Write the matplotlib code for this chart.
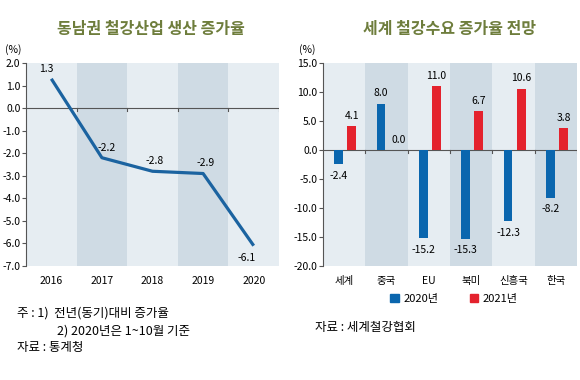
import matplotlib
matplotlib.use('Agg')
import matplotlib.pyplot as plt
import matplotlib.patches as mpatches
import numpy as np

plt.rcParams['font.family'] = ['Noto Sans CJK KR', 'DejaVu Sans']

# data
years = ['2016', '2017', '2018', '2019', '2020']
growth = [1.3, -2.2, -2.8, -2.9, -6.1]

regions = ['세계', '중국', 'EU', '북미', '신흥국', '한국']
demand_2020 = [-2.4, 8.0, -15.2, -15.3, -12.3, -8.2]
demand_2021 = [4.1, 0.0, 11.0, 6.7, 10.6, 3.8]

band_light = '#e6edf2'
band_dark = '#cfdbe4'
title_col = '#6e7d3c'
blue = '#0a66ae'
red = '#e4222d'
axis_col = '#555555'

fig = plt.figure(figsize=(5.8, 3.8), dpi=100)


def style_axes(ax, n, ymin, ymax, step, tick_h):
    ax.set_xlim(-0.5, n - 0.5)
    ax.set_ylim(ymin, ymax)
    for i in range(n):
        ax.axvspan(i - 0.5, i + 0.5, color=band_dark if i % 2 else band_light, lw=0, zorder=0)
    for s in ['top', 'right', 'bottom']:
        ax.spines[s].set_visible(False)
    ax.spines['left'].set_color(axis_col)
    ax.spines['left'].set_linewidth(0.8)
    ax.axhline(0, color=axis_col, lw=0.8, zorder=1)
    for i in range(n):
        ax.plot([i + 0.5, i + 0.5], [0, -tick_h], color=axis_col, lw=0.8, zorder=1)
    ticks = np.arange(ymin, ymax + step / 2, step)
    ax.set_yticks(ticks)
    ax.set_yticklabels(['%.1f' % v for v in ticks], fontsize=7.5)
    ax.tick_params(axis='y', length=3, width=0.8, color=axis_col, pad=1)
    ax.tick_params(axis='x', length=0, pad=7, labelsize=7.5)
    ax.set_xticks(range(n))


# === left: line chart ===
ax1 = fig.add_axes([26 / 580, 1 - 266 / 380, 253 / 580, 203 / 380])
style_axes(ax1, len(years), -7, 2, 1, 0.15)
ax1.set_xticklabels(years)
x1 = np.arange(len(years))
ax1.plot(x1, growth, color='#1b63a0', lw=2.3, zorder=3, solid_capstyle='butt')
offsets = [(-0.1, 0.45), (0.1, 0.45), (0.05, 0.45), (0.05, 0.45), (-0.15, -0.55)]
for xi, v, (dx, dy) in zip(x1, growth, offsets):
    ax1.text(xi + dx, v + dy, '%.1f' % v, ha='center', va='center', fontsize=7.5)
fig.text(5 / 580, 1 - 50 / 380, '(%)', fontsize=7.5, va='center')
fig.text(151 / 580, 1 - 29 / 380, '동남권 철강산업 생산 증가율', fontsize=11.5,
         color=title_col, ha='center', va='center', fontweight='bold')

fig.text(17 / 580, 1 - 313 / 380, '주 : 1)  전년(동기)대비 증가율', fontsize=9, va='center')
fig.text(57 / 580, 1 - 331 / 380, '2) 2020년은 1~10월 기준', fontsize=9, va='center')
fig.text(17 / 580, 1 - 348 / 380, '자료 : 통계청', fontsize=9, va='center')

# === right: bar chart ===
ax2 = fig.add_axes([323 / 580, 1 - 266 / 380, 254 / 580, 203 / 380])
style_axes(ax2, len(regions), -20, 15, 5, 0.5)
ax2.set_xticklabels(regions)
x2 = np.arange(len(regions))
w = 0.21
ax2.bar(x2 - 0.13, demand_2020, w, color=blue, zorder=2)
ax2.bar(x2 + 0.18, demand_2021, w, color=red, zorder=2)
for xi, v in zip(x2, demand_2020):
    ax2.text(xi - 0.13, v + (1.8 if v >= 0 else -2.0), '%.1f' % v, ha='center', va='center', fontsize=7.5)
for xi, v in zip(x2, demand_2021):
    ax2.text(xi + 0.18 + (0.1 if v == 0 else 0), v + 1.8, '%.1f' % v, ha='center', va='center', fontsize=7.5)
fig.text(299 / 580, 1 - 50 / 380, '(%)', fontsize=7.5, va='center')
fig.text(450 / 580, 1 - 29 / 380, '세계 철강수요 증가율 전망', fontsize=11.5,
         color=title_col, ha='center', va='center', fontweight='bold')

handles = [mpatches.Patch(color=blue, label='2020년'), mpatches.Patch(color=red, label='2021년')]
fig.legend(handles=handles, loc='center', bbox_to_anchor=(454 / 580, 1 - 299 / 380), ncol=2,
           frameon=False, fontsize=8, handlelength=0.8, handleheight=0.8,
           handletextpad=0.4, columnspacing=2.8)
fig.text(315 / 580, 1 - 327 / 380, '자료 : 세계철강협회', fontsize=9, va='center')

fig.savefig('out.png', dpi=100)
plt.close()
